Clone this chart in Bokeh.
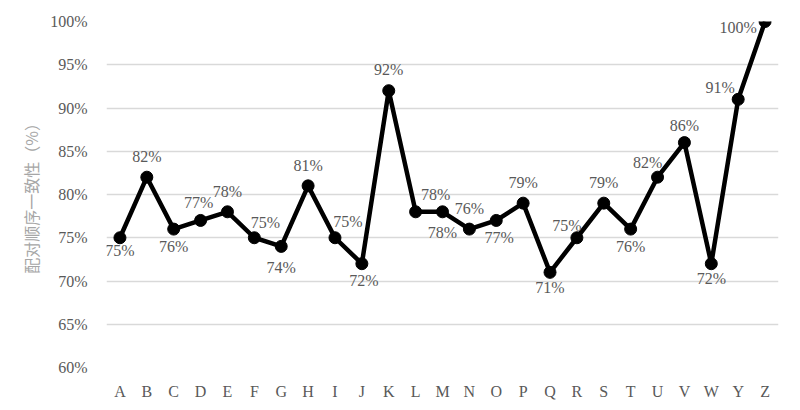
from bokeh.plotting import figure
from bokeh.models import ColumnDataSource, LabelSet, FactorRange, Range1d, FixedTicker
from bokeh.core.properties import value
from bokeh.embed import file_html
from bokeh.resources import INLINE

categories = ["A", "B", "C", "D", "E", "F", "G", "H", "I", "J", "K", "L", "M",
              "N", "O", "P", "Q", "R", "S", "T", "U", "V", "W", "Y", "Z"]
consistency = [75, 82, 76, 77, 78, 75, 74, 81, 75, 72, 92, 78, 78,
               76, 77, 79, 71, 75, 79, 76, 82, 86, 72, 91, 100]
y_ticks = [60, 65, 70, 75, 80, 85, 90, 95, 100]

# label placement (screen px offsets), style only
label_dx = [0, 0, 0, -2, 0, 11, 0, 0, 13, 2, 0, 20, 0,
            0, 3, 0, 0, -10, 0, 0, -10, 0, 0, -18, -27]
label_dy = [-13, 21, -17, 18, 20, 15, -21, 20, 16, -17, 21, 17, -21,
            21, -17, 21, -15, 12, 21, -17, 15, 17, -15, 12, -6]

src = ColumnDataSource(dict(
    x=categories,
    y=consistency,
    txt=[f"{v}%" for v in consistency],
    dx=label_dx,
    dy=label_dy,
))

p = figure(
    width=784, height=402,
    x_range=FactorRange(*categories, range_padding=0),
    y_range=Range1d(60, 100),
    output_backend="svg", toolbar_location=None,
    min_border_left=106, min_border_right=6, min_border_top=21, min_border_bottom=34,
)
p.outline_line_color = None
p.background_fill_color = "white"
p.border_fill_color = "white"

p.line("x", "y", source=src, line_color="black", line_width=4.5, line_join="round")
p.scatter("x", "y", source=src, size=12, fill_color="black", line_color="black")

labels = LabelSet(x="x", y="y", text="txt", source=src, x_offset="dx", y_offset="dy",
                  text_align="center", text_baseline="middle",
                  text_font=value("Liberation Serif"), text_font_size="16px",
                  text_color="#595959")
p.add_layout(labels)

p.yaxis.ticker = FixedTicker(ticks=y_ticks)
p.yaxis.major_label_overrides = {t: f"{t}%" for t in y_ticks}
p.ygrid.ticker = FixedTicker(ticks=y_ticks)
p.ygrid.grid_line_color = "#d9d9d9"
p.ygrid.grid_line_width = 1.5
p.xgrid.grid_line_color = None

for ax in (p.xaxis[0], p.yaxis[0]):
    ax.axis_line_color = None
    ax.major_tick_line_color = None
    ax.minor_tick_line_color = None
    ax.major_label_text_font = "Liberation Serif"
    ax.major_label_text_font_size = "16px"
    ax.major_label_text_color = "#595959"

p.yaxis.major_label_standoff = 13
p.xaxis.major_label_standoff = 9
p.yaxis.axis_label = "配对顺序一致性（%）"
p.yaxis.axis_label_text_font = "Noto Sans CJK SC"
p.yaxis.axis_label_text_font_style = "normal"
p.yaxis.axis_label_text_font_size = "16px"
p.yaxis.axis_label_text_color = "#a6a6a6"
p.yaxis.axis_label_standoff = 4

open("out.html", "w").write(file_html(p, INLINE))
